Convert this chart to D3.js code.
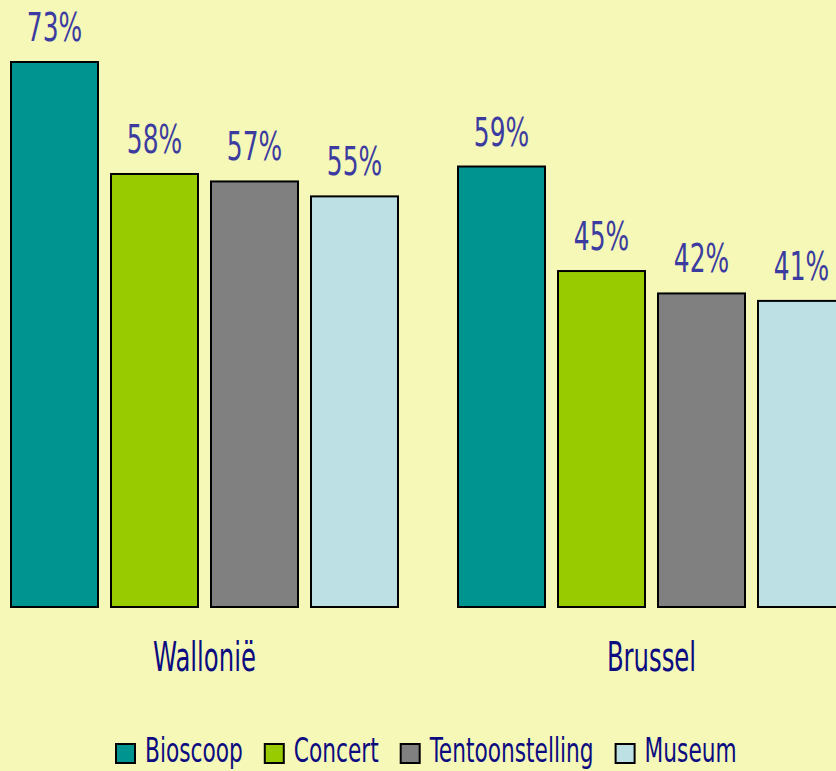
<!DOCTYPE html>
<html>
<head>
<meta charset="utf-8">
<script src="https://cdn.jsdelivr.net/npm/d3@7"></script>
<style>
  body { margin: 0; background: #f6f8b8; }
  text { font-family: "DejaVu Sans Condensed", "DejaVu Sans", sans-serif; }
</style>
</head>
<body>
<svg id="chart"></svg>
<script>
var width = 836;
var height = 771;

var regions = ["Wallonië", "Brussel"];
var series = ["Bioscoop", "Concert", "Tentoonstelling", "Museum"];
var colors = ["#009490", "#99cc00", "#808080", "#bde0e4"];
var wallonie = [73, 58, 57, 55];
var brussel = [59, 45, 42, 41];
var values = [wallonie, brussel];

var squeeze = 0.71; // the reference font is very narrow

var svg = d3.select("#chart")
    .attr("width", width)
    .attr("height", height);

var baseline = 607;

var x0 = d3.scaleBand()
  .domain(regions)
  .range([11, 11 + 2 * 447]);

var x1 = d3.scaleBand()
  .domain(series)
  .range([0, 387])
  .paddingInner(0.13);

var y = d3.scaleLinear()
  .domain([0, 73])
  .range([baseline, 62]);

var groups = svg.selectAll("g.region")
  .data(regions)
  .enter().append("g")
  .attr("class", "region")
  .attr("transform", function(d) { return "translate(" + x0(d) + ",0)"; });

groups.selectAll("rect")
  .data(function(d, i) {
    return values[i].map(function(v, j) { return { s: series[j], v: v, c: colors[j] }; });
  })
  .enter().append("rect")
  .attr("x", function(d) { return x1(d.s); })
  .attr("y", function(d) { return y(d.v); })
  .attr("width", x1.bandwidth())
  .attr("height", function(d) { return baseline - y(d.v); })
  .style("fill", function(d) { return d.c; })
  .style("stroke", "#000")
  .style("stroke-width", 2);

groups.selectAll("text.val")
  .data(function(d, i) {
    return values[i].map(function(v, j) { return { s: series[j], v: v }; });
  })
  .enter().append("text")
  .attr("class", "val")
  .attr("transform", function(d) {
    return "translate(" + (x1(d.s) + x1.bandwidth() / 2) + "," + (y(d.v) - 21) + ") scale(" + squeeze + ",1)";
  })
  .attr("text-anchor", "middle")
  .attr("fill", "#3c3ca0")
  .style("font-size", "39px")
  .text(function(d) { return d.v + "%"; });

groups.append("text")
  .attr("transform", "translate(" + (387 / 2) + ",671) scale(0.66,1)")
  .attr("text-anchor", "middle")
  .attr("fill", "#0c0c80")
  .style("font-size", "41px")
  .text(function(d) { return d; });

// legend, laid out left to right
var legendSq = 19;
var lx = 116;
series.forEach(function(s, i) {
  var g = svg.append("g")
    .attr("transform", "translate(" + lx + ",744)");
  g.append("rect")
    .attr("width", legendSq)
    .attr("height", legendSq)
    .style("fill", colors[i])
    .style("stroke", "#000")
    .style("stroke-width", 2);
  var t = g.append("text")
    .attr("transform", "translate(29,18) scale(0.71,1)")
    .attr("fill", "#0c0c80")
    .style("font-size", "34px")
    .text(s);
  var w = t.node().getComputedTextLength() * 0.71;
  lx += 29 + w + 22;
});
</script>
</body>
</html>
